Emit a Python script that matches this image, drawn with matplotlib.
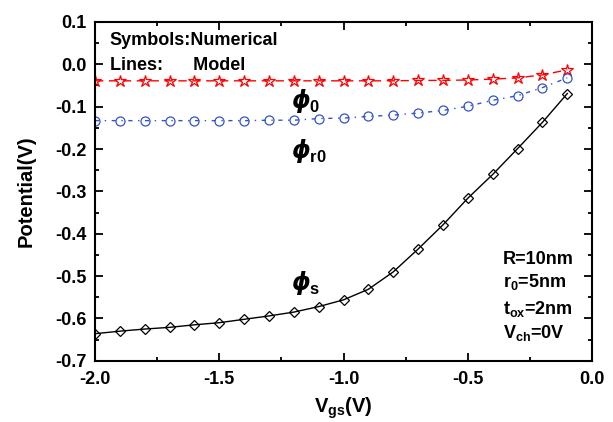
import numpy as np
import matplotlib
matplotlib.use("Agg")
import matplotlib.pyplot as plt
from matplotlib.ticker import MultipleLocator, FormatStrFormatter

plt.rcParams['font.family'] = ['Liberation Sans', 'DejaVu Sans']
plt.rcParams['font.weight'] = 'bold'
plt.rcParams['axes.unicode_minus'] = False
plt.rcParams['mathtext.fontset'] = 'custom'
plt.rcParams['mathtext.rm'] = 'Liberation Sans:bold'
plt.rcParams['mathtext.it'] = 'DejaVu Sans:bold:italic'
plt.rcParams['mathtext.bf'] = 'Liberation Sans:bold'

# gate voltage (V)
vgs = [-2.0, -1.9, -1.8, -1.7, -1.6, -1.5, -1.4, -1.3, -1.2, -1.1,
       -1.0, -0.9, -0.8, -0.7, -0.6, -0.5, -0.4, -0.3, -0.2, -0.1]

# center potential phi_0
phi_0 = [-0.039, -0.039, -0.039, -0.039, -0.039, -0.039, -0.039, -0.039, -0.039, -0.039,
         -0.039, -0.039, -0.039, -0.038, -0.038, -0.037, -0.035, -0.032, -0.025, -0.013]

# potential at r0
phi_r0 = [-0.133, -0.133, -0.133, -0.133, -0.133, -0.133, -0.133, -0.132, -0.132, -0.128,
          -0.127, -0.123, -0.120, -0.115, -0.109, -0.099, -0.085, -0.074, -0.055, -0.032]

# surface potential phi_s
phi_s = [-0.636, -0.630, -0.625, -0.621, -0.615, -0.610, -0.602, -0.594, -0.585, -0.572,
         -0.556, -0.531, -0.490, -0.436, -0.379, -0.316, -0.260, -0.199, -0.137, -0.069]

fig = plt.figure(figsize=(6.13, 4.22), dpi=100)
ax = fig.add_axes([0.155, 0.145, 0.811, 0.803])

red = '#ff0000'
blue = '#3355c4'

# model lines
ax.plot(vgs, phi_0, color=red, lw=1.0, dashes=(6, 4))
ax.plot(vgs, phi_r0, color=blue, lw=1.0, dashes=(3, 4, 1, 4))
ax.plot(vgs, phi_s, color='black', lw=1.0)

# numerical symbols
ax.plot(vgs, phi_0, ls='none', marker='*', ms=9, mfc='none', mec=red, mew=0.9)
ax.plot(vgs, phi_r0, ls='none', marker='o', ms=6.5, mfc='none', mec=blue, mew=0.9)
ax.plot(vgs, phi_s, ls='none', marker='D', ms=5.5, mfc='none', mec='black', mew=0.9)

ax.set_xlim(-2.0, 0.0)
ax.set_ylim(-0.7, 0.1)
ax.xaxis.set_major_locator(MultipleLocator(0.5))
ax.xaxis.set_minor_locator(MultipleLocator(0.25))
ax.yaxis.set_major_locator(MultipleLocator(0.1))
ax.yaxis.set_minor_locator(MultipleLocator(0.05))
ax.xaxis.set_major_formatter(FormatStrFormatter('%.1f'))
ax.yaxis.set_major_formatter(FormatStrFormatter('%.1f'))
ax.tick_params(which='both', direction='in', top=True, right=True, width=1.3,
               labelsize=13)
ax.tick_params(axis='x', pad=7)
ax.tick_params(axis='y', pad=6)
ax.tick_params(which='major', length=6)
ax.tick_params(which='minor', length=3)
for s in ax.spines.values():
    s.set_linewidth(1.5)

ax.set_xlabel(r'V$_{\mathrm{gs}}$(V)', fontsize=14.5, fontweight='bold', labelpad=6)
ax.set_ylabel('Potential(V)', fontsize=14.5, fontweight='bold', labelpad=14)

ax.text(0.03, 0.945, 'Symbols:Numerical', transform=ax.transAxes, fontsize=13,
        fontweight='bold', va='center')
ax.text(0.03, 0.872, 'Lines:      Model', transform=ax.transAxes, fontsize=13,
        fontweight='bold', va='center')

ax.text(-1.21, -0.088, r'$\phi_{\mathrm{0}}$', fontsize=17, va='center')
ax.text(-1.21, -0.205, r'$\phi_{\mathrm{r0}}$', fontsize=17, va='center')
ax.text(-1.21, -0.518, r'$\phi_{\mathrm{s}}$', fontsize=17, va='center')

rx = -0.36
ax.text(rx, -0.462, 'R=10nm', fontsize=13, fontweight='bold', va='center')
ax.text(rx, -0.515, r'r$_{\mathrm{0}}$=5nm', fontsize=13, fontweight='bold', va='center')
ax.text(rx, -0.577, r't$_{\mathrm{ox}}$=2nm', fontsize=13, fontweight='bold', va='center')
ax.text(rx, -0.635, r'V$_{\mathrm{ch}}$=0V', fontsize=13, fontweight='bold', va='center')

fig.savefig('out.png', dpi=100)
